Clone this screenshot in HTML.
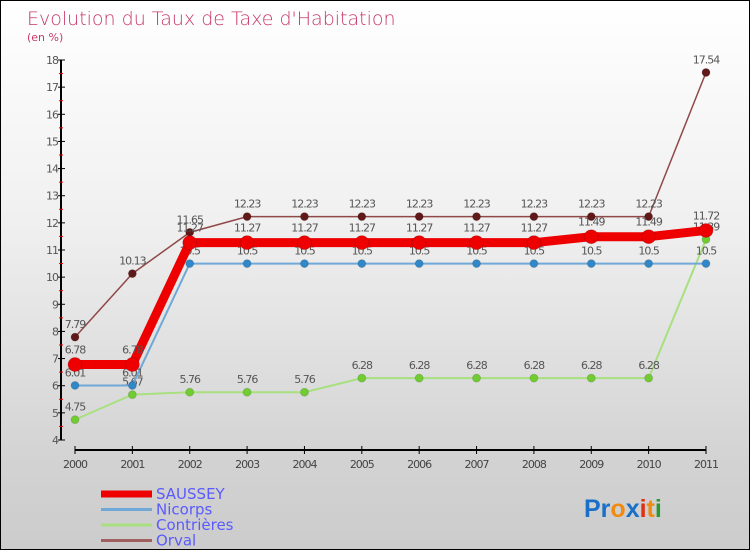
<!DOCTYPE html>
<html><head><meta charset="utf-8"><style>
body{margin:0}
#c{width:748px;height:548px;border:1px solid #000;background:linear-gradient(#ffffff,#f0f0f0 40%,#d2d2d2 85%,#cccccc);position:relative;overflow:hidden;font-family:"DejaVu Sans","Liberation Sans",sans-serif}
</style></head><body>
<div id="c">
<svg id="s" width="748" height="548" xmlns="http://www.w3.org/2000/svg">
<text x="26" y="24" font-size="19" fill="#c8376a" font-family="DejaVu Sans,sans-serif" font-weight="200">Evolution du Taux de Taxe d'Habitation</text>
<text x="26" y="40" font-size="11" fill="#c8376a">(en %)</text>
<g id="axes"></g><g id="series"></g>
<g id="legend" font-size="15" fill="#5a5aff"></g>
<text x="583" y="516" font-size="25" font-family="Liberation Sans,sans-serif" font-weight="bold"><tspan fill="#1a70c8">Pr</tspan><tspan fill="#f08a10">o</tspan><tspan fill="#1a70c8">x</tspan><tspan fill="#e03010">i</tspan><tspan fill="#f08a10">t</tspan><tspan fill="#2a9a30">i</tspan></text>
</svg></div>
<script>
const years=["2000","2001","2002","2003","2004","2005","2006","2007","2008","2009","2010","2011"];
const yTicks=[4,5,6,7,8,9,10,11,12,13,14,15,16,17,18];
const saussey=[6.78,6.78,11.27,11.27,11.27,11.27,11.27,11.27,11.27,11.49,11.49,11.72];
const nicorps=[6.01,6.01,10.5,10.5,10.5,10.5,10.5,10.5,10.5,10.5,10.5,10.5];
const contrieres=[4.75,5.67,5.76,5.76,5.76,6.28,6.28,6.28,6.28,6.28,6.28,11.39];
const orval=[7.79,10.13,11.65,12.23,12.23,12.23,12.23,12.23,12.23,12.23,12.23,17.54];
const NS="http://www.w3.org/2000/svg";
const X=i=>74+i*(705-74)/(years.length-1);
const Y=v=>439-(v-4)*(439-59)/14;
function mk(p,t,a){const e=document.createElementNS(NS,t);for(const k in a)e.setAttribute(k,a[k]);p.appendChild(e);return e;}
const ax=document.getElementById('axes');
let l=mk(ax,'line',{x1:60,y1:59,x2:60,y2:439,stroke:'#000','stroke-width':2});


l=mk(ax,'line',{x1:74,y1:449,x2:705,y2:449,stroke:'#000','stroke-width':2});


yTicks.forEach(v=>{
 mk(ax,'line',{x1:57,y1:Y(v),x2:64,y2:Y(v),stroke:'#000'});
 if(v<18)mk(ax,'line',{x1:58,y1:Y(v+0.5),x2:62,y2:Y(v+0.5),stroke:'#e00'});
 const t=mk(ax,'text',{x:57,y:Y(v)+4,'font-size':11,fill:'#555','text-anchor':'end','letter-spacing':'-1'});t.textContent=v;
 
 
});
years.forEach((y,i)=>{
 mk(ax,'line',{x1:X(i),y1:445,x2:X(i),y2:453,stroke:'#000'});
 const t=mk(ax,'text',{x:X(i),y:467,'font-size':11,fill:'#444','text-anchor':'middle','letter-spacing':'-1'});t.textContent=y;
 
 
});
const sg=document.getElementById('series');
function draw(d,name,col,w,r,dot,lab){
 const g=mk(sg,'g',{});
 
 
 mk(g,'polyline',{points:d.map((v,i)=>X(i)+','+Y(v)).join(' '),fill:'none',stroke:col,'stroke-width':w,'stroke-linejoin':'round'});
 d.forEach((v,i)=>{
  const c=mk(g,'circle',{cx:X(i),cy:Y(v),r:r,fill:dot,stroke:'#0002'});
  
  
  const t=mk(g,'text',{x:X(i),y:Y(v)-lab,'font-size':11,fill:'#555','text-anchor':'middle','letter-spacing':'-1'});
  t.textContent=String(v).replace('.','.');
  
  
 });
}
draw(contrieres,'contrieres','#a8e080',2,4,'#70cc30',9);
draw(nicorps,'nicorps','#70a8d8',2,4,'#3088c8',9);
draw(orval,'orval','#904848',1.5,4,'#601818',9);
draw(saussey,'saussey','#ee0000',9,7,'#ee0000',11);
const lg=document.getElementById('legend');
[['SAUSSEY','#ee0000',7],['Nicorps','#70a8d8',3],['Contrières','#a8e080',3],['Orval','#a06060',3]].forEach((e,i)=>{
 const y=492+i*15.5;
 const g=mk(lg,'g',{});
 
 
 mk(g,'line',{x1:100,y1:y+1,x2:151,y2:y+1,stroke:e[1],'stroke-width':e[2]});
 const t=mk(g,'text',{x:155,y:y+6});t.textContent=e[0];
});
</script>
</body></html>
